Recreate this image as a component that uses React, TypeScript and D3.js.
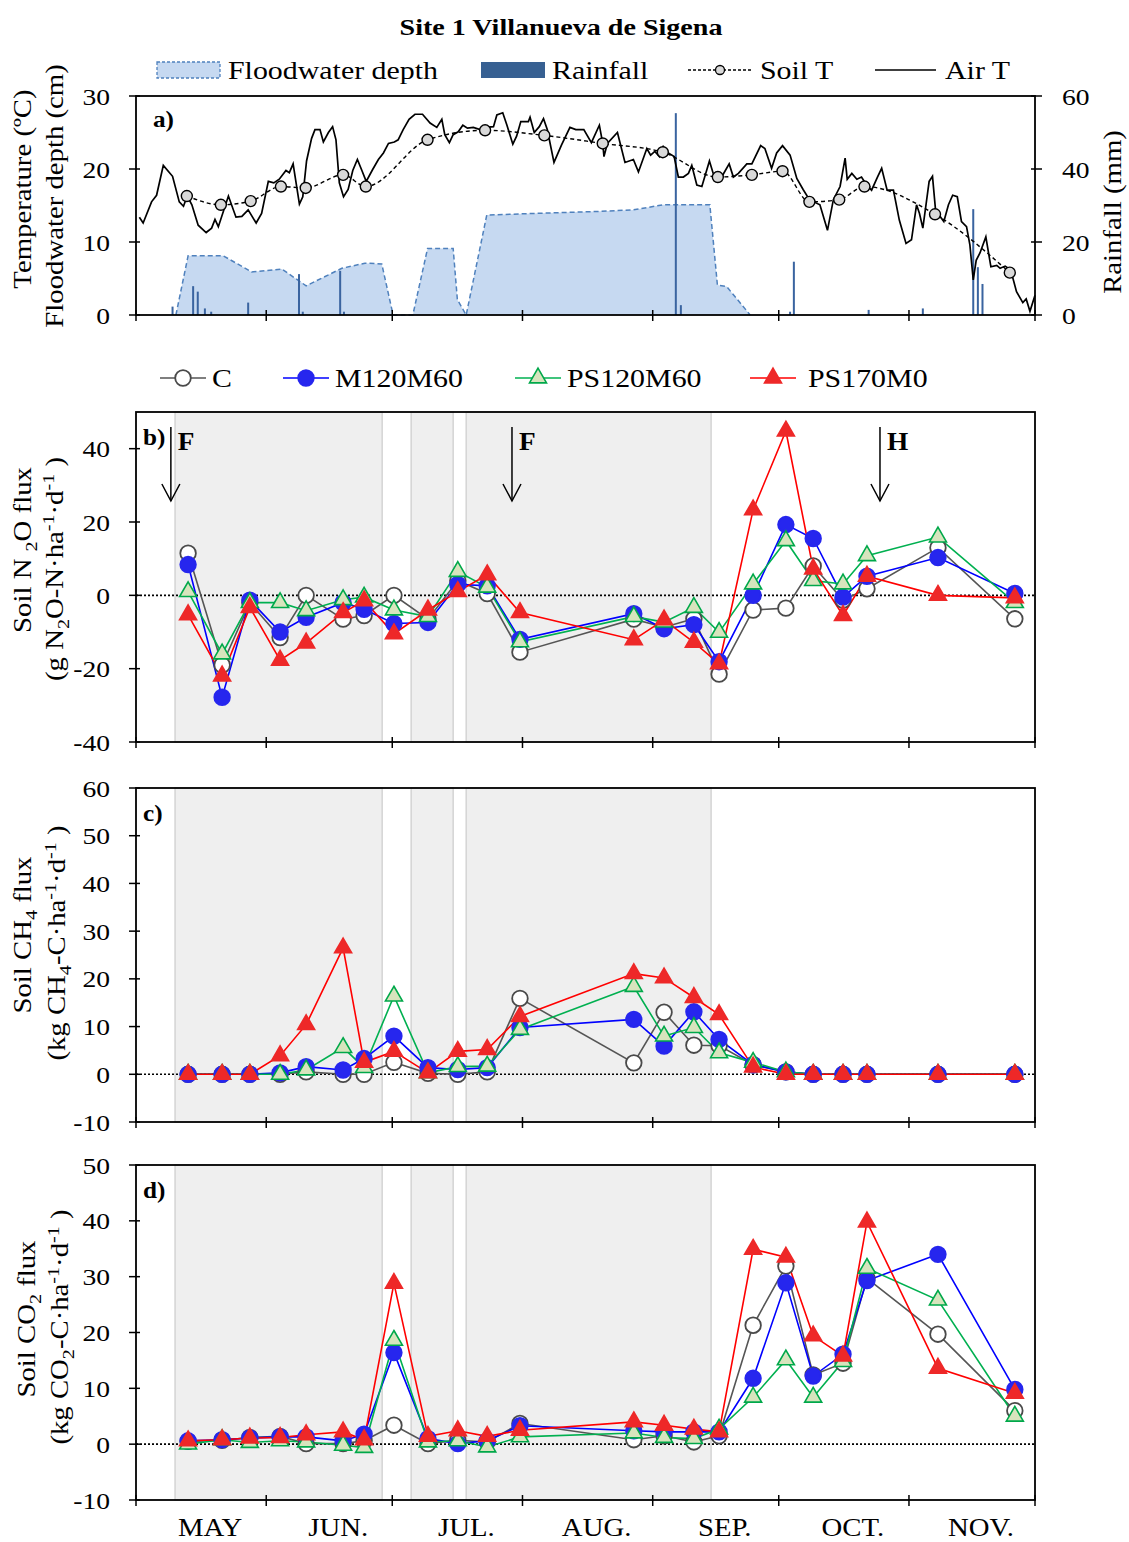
import React from "react";
import * as d3 from "d3";

// days counted from 1 May
const monthStarts = [0, 31, 61, 92, 123, 153, 184, 214];
const monthLabels = ["MAY", "JUN.", "JUL.", "AUG.", "SEP.", "OCT.", "NOV."];

// flooded periods (grey bands)
const floodBands = [[9.3, 58.6], [65.5, 75.5], [78.6, 136.9]];
const events = [
    { day: 8.3, label: "F" },
    { day: 89.5, label: "F" },
    { day: 177.1, label: "H" },
];

// panel a
const airDays = [0.8, 1.7, 3.7, 4.9, 6.5, 8.7, 10.3, 11.3, 12.2, 13.3, 14.8, 16.7, 18.0, 18.8, 19.6, 22.0, 23.8, 25.2, 26.7, 28.6, 29.9, 31.5, 32.8, 34.1, 35.7, 36.5, 37.4, 38.9, 39.7, 40.6, 41.8, 42.6, 43.8, 44.6, 45.8, 46.8, 47.6, 48.4, 49.4, 50.5, 51.6, 52.7, 53.7, 54.8, 56.3, 57.7, 58.9, 60.1, 61.5, 62.4, 63.6, 65.0, 66.4, 68.2, 70.0, 71.6, 72.8, 73.5, 74.6, 75.5, 76.7, 77.8, 78.9, 80.3, 81.9, 83.3, 85.1, 85.9, 87.3, 88.3, 89.7, 90.6, 91.6, 93.4, 93.8, 94.8, 96.0, 97.0, 97.9, 99.5, 101.3, 103.3, 104.7, 106.6, 108.4, 110.3, 111.1, 111.4, 112.2, 114.6, 116.4, 118.4, 119.6, 121.6, 122.5, 123.5, 124.6, 125.5, 126.7, 128.1, 129.1, 130.3, 131.5, 132.3, 133.5, 134.7, 136.5, 137.4, 138.4, 139.4, 141.2, 142.2, 143.4, 145.4, 146.6, 148.7, 149.7, 151.3, 152.5, 153.9, 155.7, 157.3, 158.8, 160.3, 162.8, 164.6, 166.0, 167.6, 168.8, 169.3, 170.4, 171.6, 172.7, 173.9, 175.1, 176.5, 177.5, 178.8, 180.3, 181.7, 183.3, 184.6, 185.8, 186.5, 187.3, 188.1, 188.8, 189.6, 190.4, 191.4, 192.3, 193.4, 194.4, 195.5, 196.5, 197.7, 198.5, 199.3, 200.0, 200.9, 202.3, 203.5, 204.9, 205.7, 206.9, 208.2, 209.6, 211.1, 211.9, 212.8, 214.0];
const airT = [13.4, 12.6, 15.5, 16.4, 20.5, 19.0, 15.5, 14.9, 16.3, 15.1, 12.3, 11.3, 11.9, 13.1, 12.1, 16.3, 13.4, 13.5, 14.4, 12.6, 13.9, 18.3, 18.1, 18.6, 19.8, 19.5, 20.7, 15.2, 16.2, 21.1, 24.2, 25.4, 25.4, 23.7, 25.0, 25.8, 24.0, 18.1, 16.2, 17.2, 19.8, 21.3, 19.9, 18.3, 19.9, 21.3, 22.2, 23.5, 23.7, 24.0, 25.4, 26.8, 27.5, 27.5, 26.3, 25.7, 26.8, 24.7, 23.6, 24.7, 25.1, 26.0, 25.6, 25.7, 25.4, 25.7, 25.8, 27.4, 27.7, 26.0, 23.4, 24.5, 26.5, 26.5, 27.1, 25.0, 25.8, 26.9, 25.4, 20.9, 23.3, 25.7, 25.4, 25.4, 23.6, 26.0, 23.5, 21.7, 23.5, 25.0, 20.9, 21.3, 19.6, 22.8, 21.9, 22.4, 21.7, 23.1, 22.2, 21.7, 18.9, 18.9, 19.4, 20.5, 17.8, 17.6, 21.1, 19.4, 18.6, 18.9, 20.7, 18.9, 19.4, 20.7, 20.7, 23.2, 22.8, 20.1, 22.2, 23.2, 21.9, 18.7, 17.2, 15.8, 15.1, 11.6, 15.8, 17.6, 21.5, 18.6, 19.4, 18.6, 18.9, 17.8, 17.1, 18.9, 20.1, 17.1, 17.1, 13.0, 9.8, 10.3, 15.1, 13.9, 11.9, 15.3, 18.3, 19.0, 13.9, 13.5, 12.8, 15.1, 16.4, 16.2, 12.8, 12.1, 9.6, 4.8, 7.5, 8.5, 10.7, 6.6, 6.8, 6.4, 6.7, 6.2, 3.2, 1.7, 2.2, 0.5, 2.7];

const soilDays = [12.1, 20.2, 27.3, 34.5, 40.4, 49.3, 54.7, 69.4, 83.1, 97.2, 111.1, 125.4, 138.5, 146.6, 153.9, 160.3, 167.4, 173.4, 190.2, 208.0];
const soilT = [16.3, 15.1, 15.6, 17.6, 17.4, 19.2, 17.6, 24.0, 25.3, 24.6, 23.5, 22.3, 18.9, 19.2, 19.7, 15.5, 15.8, 17.6, 13.8, 5.8];

const floodDays = [9.5, 12.4, 20.8, 27.5, 34.7, 40.5, 49.0, 54.5, 58.5, 61.2, 65.9, 69.4, 75.5, 76.5, 78.6, 83.5, 110.5, 118.4, 125.5, 136.6, 138.4, 140.6, 146.2];
const floodDepth = [0, 8.1, 8.1, 5.9, 6.3, 4.0, 6.4, 7.1, 7.0, 0, 0, 9.1, 9.1, 2.1, 0, 13.7, 14.2, 14.4, 15.1, 15.1, 4.1, 3.9, 0];

const rainDays = [8.7, 13.6, 14.7, 16.4, 17.9, 26.7, 38.8, 39.7, 48.6, 49.5, 128.5, 129.7, 155.7, 156.6, 174.4, 187.3, 199.3, 200.4, 201.5];
const rainMm = [2.3, 7.9, 6.4, 1.8, 0.9, 3.4, 11.2, 0.9, 12.1, 0.9, 55.3, 2.7, 0.9, 14.6, 1.4, 1.8, 29.0, 13.1, 8.5];

// panels b-d, gas sampling days
const sampleDays = [12.4, 20.5, 27.1, 34.3, 40.5, 49.3, 54.3, 61.4, 69.5, 76.6, 83.6, 91.4, 118.5, 125.7, 132.8, 138.8, 146.9, 154.7, 161.2, 168.3, 174.0, 190.9, 209.2];

const n2oC = [11.5, -19, -2, -11.5, 0, -6.5, -5.5, 0, -6.5, 4, 0.5, -15.5, -6.5, -8.7, -6.4, -21.5, -4, -3.5, 8, -1.3, 1.8, 13, -6.4];
const n2oM = [8.4, -27.8, -1.3, -10, -6, -2, -3.8, -7.7, -7.4, 3, 2.6, -12, -5, -9.1, -8, -18.1, 0, 19.3, 15.5, -0.5, 5.2, 10.3, 0.5];
const n2oPS120 = [1, -16, -2, -2, -4.2, -1.2, -0.5, -4, -5.8, 6.5, 2.2, -12.7, -5.8, -7.3, -3.3, -10.1, 3.1, 14.9, 4, 3.1, 10.8, 15.9, -2];
const n2oPS170 = [-5.3, -22, -3.3, -17.7, -13, -4.7, -1.5, -10.5, -4, 1, 5.6, -4.7, -12.1, -6.7, -12.8, -18.7, 23.3, 44.8, 7.2, -5.5, 5.2, 0, -0.7];

const ch4C = [0, 0, 0, 0, 0.5, 0, 0, 2.5, 0.2, 0, 0.5, 15.9, 2.4, 13, 6.1, 6, 2, 0.5, 0, 0, 0, 0, 0];
const ch4M = [0, 0, 0, 0.3, 1.6, 0.9, 3.3, 8, 1.4, 1, 1.4, 9.8, 11.5, 5.9, 13.1, 7.3, 2, 0.5, 0, 0, 0, 0, 0];
const ch4PS120 = [0, 0, 0, 0, 0.9, 5.6, 1.4, 16.4, 0.3, 1.6, 1.7, 9.4, 18.4, 8, 9.8, 4.5, 2.5, 0.5, 0, 0, 0, 0, 0];
const ch4PS170 = [0, 0, 0, 3.9, 10.4, 26.5, 2.5, 4.8, 0.3, 4.8, 5.2, 12.1, 21.1, 20.2, 16.1, 12.5, 1.5, 0, 0, 0, 0, 0, 0];

const co2C = [0.5, 0.7, 1.2, 1.4, 0.1, 0.1, 0.6, 3.4, 0.1, 0.7, 0.4, 3.7, 0.8, 1.5, 0.4, 1.5, 21.3, 31.9, 12.4, 14.5, 29.7, 19.7, 6];
const co2M = [0.6, 0.8, 1.1, 1.3, 1.3, 0.6, 1.8, 16.4, 1, 0.1, 0.6, 3.3, 2.4, 2.2, 2.2, 2.2, 11.8, 28.9, 12.2, 16.1, 29.3, 34, 9.8];
const co2PS120 = [0, 0.8, 0.3, 0.6, 0.4, -0.2, -0.6, 18.6, 0.4, 0.6, -0.5, 1.3, 2, 1.2, 1, 2.7, 8.4, 15.1, 8.4, 14.8, 31.5, 25.8, 5];
const co2PS170 = [0.6, 0.8, 1.1, 1.2, 1.7, 2.2, 0.8, 28.8, 1.4, 2.4, 1.4, 2.5, 4, 3.4, 2.7, 2.2, 34.9, 33.5, 19.4, 15.8, 39.8, 13.6, 9.1];

const treatments = ["C", "M120M60", "PS120M60", "PS170M0"];

const FONT = "Liberation Serif, Times New Roman, serif";
const SX = 1.15; // the original figure's text is a bit stretched sideways
const styles = [
    { line: "#555555", fill: "#ffffff", stroke: "#4a4a4a", shape: "circle" },
    { line: "#0000ff", fill: "#2626ee", stroke: "#2626ee", shape: "circle" },
    { line: "#00b050", fill: "#d7e4bd", stroke: "#00a84a", shape: "triangle" },
    { line: "#ff0000", fill: "#ee2828", stroke: "#ee2828", shape: "triangle" },
];

const x = d3.scaleLinear().domain([0, 214]).range([136, 1035]);

const triPath = d3.symbol(d3.symbolTriangle, 125)();

const Marker = ({ cx, cy, st }) => {
    if (st.shape === "circle")
        return <circle cx={cx} cy={cy} r={7.8} fill={st.fill} stroke={st.stroke} strokeWidth={1.8} />;
    return <path d={triPath} transform={`translate(${cx},${cy})`} fill={st.fill} stroke={st.stroke} strokeWidth={1.6} />;
};

// text stretched along its direction
const Txt = ({ x: tx, y: ty, size = 24, anchor = "start", bold = false, dy = undefined, sx = SX, children }) => (
    <text transform={`translate(${tx},${ty}) scale(${sx},1)`} dy={dy} textAnchor={anchor}
        fontSize={size} fontWeight={bold ? "bold" : "normal"} fontFamily={FONT}>{children}</text>
);

// rotated label with sub / superscripts
const RotLabel = ({ cx, cy, parts, size = 25 }) => {
    let off = 0;
    return (
        <text transform={`translate(${cx},${cy}) rotate(-90) scale(${SX},1)`} textAnchor="middle" fontSize={size} fontFamily={FONT}>
            {parts.map((p, i) => {
                const target = p.sub ? 6 : p.sup ? -9 : 0;
                const dy = target - off;
                off = target;
                return (
                    <tspan key={i} dy={dy} fontSize={p.sub || p.sup ? size * 0.7 : size}>{p.t}</tspan>
                );
            })}
        </text>
    );
};

const XTicks = ({ y0 }) => (
    <g>
        {monthStarts.map((d, i) => (
            <line key={i} x1={x(d)} x2={x(d)} y1={y0 - 5} y2={y0 + 6} stroke="#000" strokeWidth={1.5} />
        ))}
    </g>
);

const FluxPanel = ({ top, bottom, domain, ticks, series, tag, title1, title2, t1x, t2x, t1y, t2y, showArrows }) => {
    const y = d3.scaleLinear().domain(domain).range([bottom, top]);
    const line = d3.line().x((d) => x(d[0])).y((d) => y(d[1]));
    return (
        <g>
            {floodBands.map((b, i) => (
                <rect key={i} x={x(b[0])} y={top} width={x(b[1]) - x(b[0])} height={bottom - top}
                    fill="#efefef" stroke="#d4d4d4" strokeWidth={1.5} />
            ))}
            <line x1={x(0)} x2={x(214)} y1={y(0)} y2={y(0)} stroke="#000" strokeWidth={1.6} strokeDasharray="2,2" />
            {series.map((vals, si) => (
                <path key={si} d={line(sampleDays.map((d, i) => [d, vals[i]]))} fill="none"
                    stroke={styles[si].line} strokeWidth={1.6} />
            ))}
            {series.map((vals, si) => (
                <g key={si}>
                    {vals.map((v, i) => <Marker key={i} cx={x(sampleDays[i])} cy={y(v)} st={styles[si]} />)}
                </g>
            ))}
            <rect x={x(0)} y={top} width={x(214) - x(0)} height={bottom - top} fill="none" stroke="#000" strokeWidth={1.8} />
            {ticks.map((t) => (
                <g key={t}>
                    <line x1={x(0) - 7} x2={x(0) + 4} y1={y(t)} y2={y(t)} stroke="#000" strokeWidth={1.5} />
                    <Txt x={x(0) - 26} y={y(t)} dy="0.36em" anchor="end">{t}</Txt>
                </g>
            ))}
            <XTicks y0={bottom} />
            <Txt x={x(0) + 7} y={top + 33} bold sx={1.05}>{tag}</Txt>
            {showArrows && events.map((e, i) => {
                const ax = x(e.day);
                return (
                    <g key={i}>
                        <line x1={ax} x2={ax} y1={top + 15} y2={top + 89} stroke="#000" strokeWidth={1.5} />
                        <path d={`M${ax - 9},${top + 72} L${ax},${top + 89} L${ax + 9},${top + 72}`} fill="none" stroke="#000" strokeWidth={1.5} />
                        <Txt x={ax + 7} y={top + 38} size={26} bold sx={1.05}>{e.label}</Txt>
                    </g>
                );
            })}
            <RotLabel cx={t1x} cy={t1y} parts={title1} />
            <RotLabel cx={t2x} cy={t2y} parts={title2} />
        </g>
    );
};

export default function App() {
    const aTop = 96, aBot = 315;
    const yT = d3.scaleLinear().domain([0, 30]).range([aBot, aTop]);
    const yR = d3.scaleLinear().domain([0, 60]).range([aBot, aTop]);
    const airLine = d3.line().x((d) => x(d[0])).y((d) => yT(d[1]));
    const soilLine = d3.line().x((d) => x(d[0])).y((d) => yT(d[1])).curve(d3.curveMonotoneX);
    const floodArea = d3.area().x((d) => x(d[0])).y0(yT(0)).y1((d) => yT(d[1]));
    const floodTop = d3.line().x((d) => x(d[0])).y((d) => yT(d[1]));
    const floodPts = floodDays.map((d, i) => [d, floodDepth[i]]);

    const legendA = [
        { x: 157, label: "Floodwater depth", kind: "flood" },
        { x: 481, label: "Rainfall", kind: "rain" },
        { x: 688, label: "Soil T", kind: "soil" },
        { x: 875, label: "Air T", kind: "air" },
    ];
    const legendB = [160, 283, 515, 750];
    const legendBText = [212, 335, 567, 808];

    return (
        <svg width={1129} height={1542} style={{ position: "absolute", left: 0, top: 0, background: "#fff" }}>
            <rect width={1129} height={1542} fill="#fff" />
            <Txt x={561} y={35} anchor="middle" size={24} bold sx={1.17}>Site 1 Villanueva de Sigena</Txt>

            {/* legend a */}
            {legendA.map((l) => (
                <g key={l.label}>
                    {l.kind === "flood" && <rect x={l.x} y={62} width={63} height={16} fill="#c6d9f1" stroke="#4f81bd" strokeWidth={1.3} strokeDasharray="3,2" />}
                    {l.kind === "rain" && <rect x={l.x} y={62} width={64} height={16} fill="#376092" />}
                    {l.kind === "soil" && (
                        <g>
                            <line x1={l.x} x2={l.x + 64} y1={70} y2={70} stroke="#000" strokeWidth={1.4} strokeDasharray="3,2" />
                            <circle cx={l.x + 32} cy={70} r={4.5} fill="#d9d9d9" stroke="#000" strokeWidth={1.3} />
                        </g>
                    )}
                    {l.kind === "air" && <line x1={l.x} x2={l.x + 61} y1={70} y2={70} stroke="#000" strokeWidth={1.6} />}
                    <Txt x={l.x + (l.kind === "air" ? 70 : l.kind === "soil" ? 72 : 71)} y={79} size={26}>{l.label}</Txt>
                </g>
            ))}

            {/* panel a */}
            <path d={floodArea(floodPts)} fill="#c6d9f1" />
            <path d={floodTop(floodPts)} fill="none" stroke="#4f81bd" strokeWidth={1.5} strokeDasharray="5,3" />
            {rainDays.map((d, i) => (
                <rect key={i} x={x(d) - 1} y={yR(rainMm[i])} width={2} height={yR(0) - yR(rainMm[i])} fill="#3a64a0" />
            ))}
            <path d={airLine(airDays.map((d, i) => [d, airT[i]]))} fill="none" stroke="#000" strokeWidth={1.7} />
            <path d={soilLine(soilDays.map((d, i) => [d, soilT[i]]))} fill="none" stroke="#000" strokeWidth={1.4} strokeDasharray="4,3" />
            {soilDays.map((d, i) => (
                <circle key={i} cx={x(d)} cy={yT(soilT[i])} r={5.5} fill="#d9d9d9" stroke="#000" strokeWidth={1.4} />
            ))}
            <rect x={x(0)} y={aTop} width={x(214) - x(0)} height={aBot - aTop} fill="none" stroke="#000" strokeWidth={1.8} />
            {yT.ticks(3).map((t) => (
                <g key={t}>
                    <line x1={x(0) - 7} x2={x(0) + 4} y1={yT(t)} y2={yT(t)} stroke="#000" strokeWidth={1.5} />
                    <Txt x={x(0) - 26} y={yT(t)} dy="0.36em" anchor="end">{t}</Txt>
                </g>
            ))}
            {[0, 20, 40, 60].map((t) => (
                <g key={t}>
                    <line x1={x(214) - 4} x2={x(214) + 7} y1={yR(t)} y2={yR(t)} stroke="#000" strokeWidth={1.5} />
                    <Txt x={x(214) + 27} y={yR(t)} dy="0.36em">{t}</Txt>
                </g>
            ))}
            <XTicks y0={aBot} />
            <Txt x={x(0) + 17} y={aTop + 31} bold sx={1.05}>a)</Txt>
            <RotLabel cx={31} cy={189} parts={[{ t: "Temperature  (ºC)" }]} />
            <RotLabel cx={63} cy={196} parts={[{ t: "Floodwater  depth (cm)" }]} />
            <RotLabel cx={1121} cy={212} parts={[{ t: "Rainfall  (mm)" }]} />

            {/* legend b-d */}
            {treatments.map((t, i) => {
                const lx = legendB[i];
                return (
                    <g key={t}>
                        <line x1={lx} x2={lx + 46} y1={378} y2={378} stroke={styles[i].line} strokeWidth={1.6} />
                        <Marker cx={lx + 23} cy={378} st={styles[i]} />
                        <Txt x={legendBText[i]} y={387} size={26}>{t}</Txt>
                    </g>
                );
            })}

            <FluxPanel top={412} bottom={742} domain={[-40, 50]} ticks={[-40, -20, 0, 20, 40]}
                series={[n2oC, n2oM, n2oPS120, n2oPS170]} tag="b)" showArrows
                title1={[{ t: "Soil N " }, { t: "2", sub: true }, { t: "O flux" }]}
                title2={[{ t: "(g N" }, { t: "2", sub: true }, { t: "O-N·ha" }, { t: "-1", sup: true }, { t: "·d" }, { t: "-1", sup: true }, { t: " )" }]}
                t1x={31} t2x={63} t1y={550} t2y={569} />
            <FluxPanel top={788} bottom={1122} domain={[-10, 60]} ticks={[-10, 0, 10, 20, 30, 40, 50, 60]}
                series={[ch4C, ch4M, ch4PS120, ch4PS170]} tag="c)"
                title1={[{ t: "Soil CH" }, { t: "4", sub: true }, { t: " flux" }]}
                title2={[{ t: "(kg CH" }, { t: "4", sub: true }, { t: "-C·ha" }, { t: "-1", sup: true }, { t: "·d" }, { t: "-1", sup: true }, { t: " )" }]}
                t1x={31} t2x={65} t1y={935} t2y={943} />
            <FluxPanel top={1165} bottom={1500} domain={[-10, 50]} ticks={[-10, 0, 10, 20, 30, 40, 50]}
                series={[co2C, co2M, co2PS120, co2PS170]} tag="d)"
                title1={[{ t: "Soil CO" }, { t: "2", sub: true }, { t: "  flux" }]}
                title2={[{ t: "(kg CO" }, { t: "2", sub: true }, { t: "-C·ha" }, { t: "-1", sup: true }, { t: "·d" }, { t: "-1", sup: true }, { t: " )" }]}
                t1x={35} t2x={68} t1y={1319} t2y={1327} />

            {monthLabels.map((m, i) => (
                <Txt key={m} x={x((monthStarts[i] + monthStarts[i + 1]) / 2) + 9} y={1536} anchor="middle" size={25}>{m}</Txt>
            ))}
        </svg>
    );
}
